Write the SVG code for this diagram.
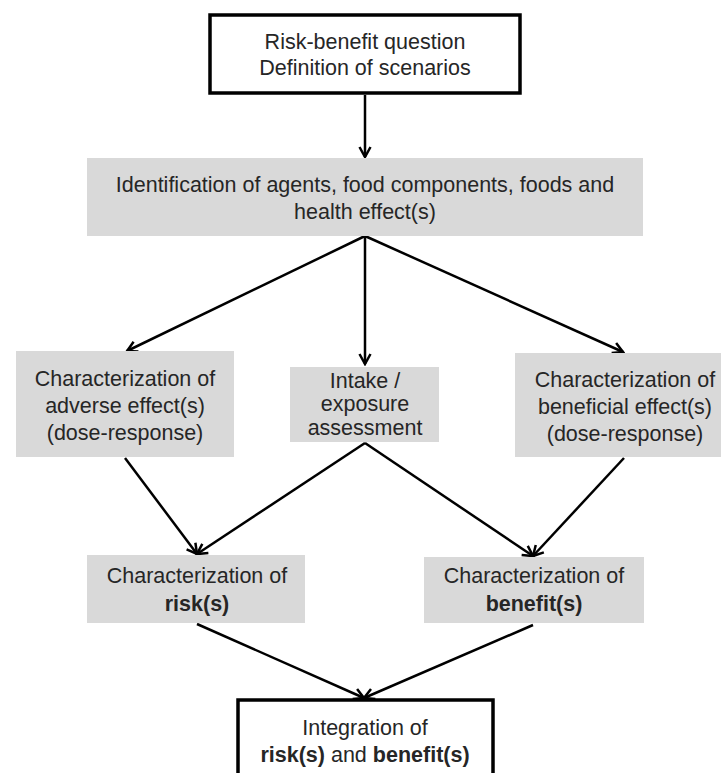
<svg xmlns="http://www.w3.org/2000/svg" width="721" height="773" viewBox="0 0 721 773">
<style>
.t{font-family:"Liberation Sans",Arial,sans-serif;font-size:21.5px;fill:#262626;text-anchor:middle}
.b{font-weight:bold}
.grey{fill:#d9d9d9;stroke:none}
.white{fill:#ffffff;stroke:#000000;stroke-width:3.5}
.c{stroke:#000000;stroke-width:2.5;fill:none;marker-end:url(#arr)}
</style>
<defs>
<marker id="arr" viewBox="0 0 14 14" refX="12" refY="7" markerWidth="14" markerHeight="14" markerUnits="userSpaceOnUse" orient="auto">
<path d="M2,1.5 L12,7 L2,12.5" fill="none" stroke="#000000" stroke-width="2.5"/>
</marker>
</defs>
<rect width="721" height="773" fill="#ffffff"/>
<g id="connectors">
<line class="c" x1="365" y1="95" x2="365" y2="157"/>
<line class="c" x1="365" y1="236" x2="127" y2="351"/>
<line class="c" x1="365" y1="236" x2="365" y2="364"/>
<line class="c" x1="365" y1="236" x2="623" y2="352"/>
<line class="c" x1="125" y1="458" x2="197" y2="554"/>
<line class="c" x1="365" y1="443" x2="197" y2="554"/>
<line class="c" x1="365" y1="443" x2="533" y2="556"/>
<line class="c" x1="624" y1="458" x2="533" y2="556"/>
<line class="c" x1="197" y1="624" x2="364" y2="698"/>
<line class="c" x1="533" y1="625" x2="364" y2="698"/>
</g>
<g id="n_question">
<rect class="white" x="210" y="15" width="310" height="78"/>
<text class="t" x="365" y="49">Risk-benefit question</text>
<text class="t" x="365" y="75">Definition of scenarios</text>
</g>
<g id="n_identification">
<rect class="grey" x="87" y="158" width="556" height="78"/>
<text class="t" x="365" y="192">Identification of agents, food components, foods and</text>
<text class="t" x="365" y="219">health effect(s)</text>
</g>
<g id="n_adverse">
<rect class="grey" x="16" y="351" width="218" height="106"/>
<text class="t" x="125" y="386">Characterization of</text>
<text class="t" x="125" y="413">adverse effect(s)</text>
<text class="t" x="125" y="440">(dose-response)</text>
</g>
<g id="n_intake">
<rect class="grey" x="290" y="367" width="149" height="75"/>
<text class="t" x="365" y="388">Intake /</text>
<text class="t" x="365" y="411">exposure</text>
<text class="t" x="365" y="435">assessment</text>
</g>
<g id="n_beneficial">
<rect class="grey" x="515" y="353" width="206" height="104"/>
<text class="t" x="625" y="387">Characterization of</text>
<text class="t" x="625" y="414">beneficial effect(s)</text>
<text class="t" x="625" y="441">(dose-response)</text>
</g>
<g id="n_risk">
<rect class="grey" x="87" y="555" width="218" height="68"/>
<text class="t" x="197" y="583">Characterization of</text>
<text class="t b" x="197" y="611">risk(s)</text>
</g>
<g id="n_benefit">
<rect class="grey" x="424" y="557" width="220" height="66"/>
<text class="t" x="534" y="583">Characterization of</text>
<text class="t b" x="534" y="611">benefit(s)</text>
</g>
<g id="n_integration">
<rect class="white" x="238" y="700" width="255" height="90"/>
<text class="t" x="365" y="735">Integration of</text>
<text class="t" x="365" y="762"><tspan class="b">risk(s)</tspan> and <tspan class="b">benefit(s)</tspan></text>
</g>
</svg>
